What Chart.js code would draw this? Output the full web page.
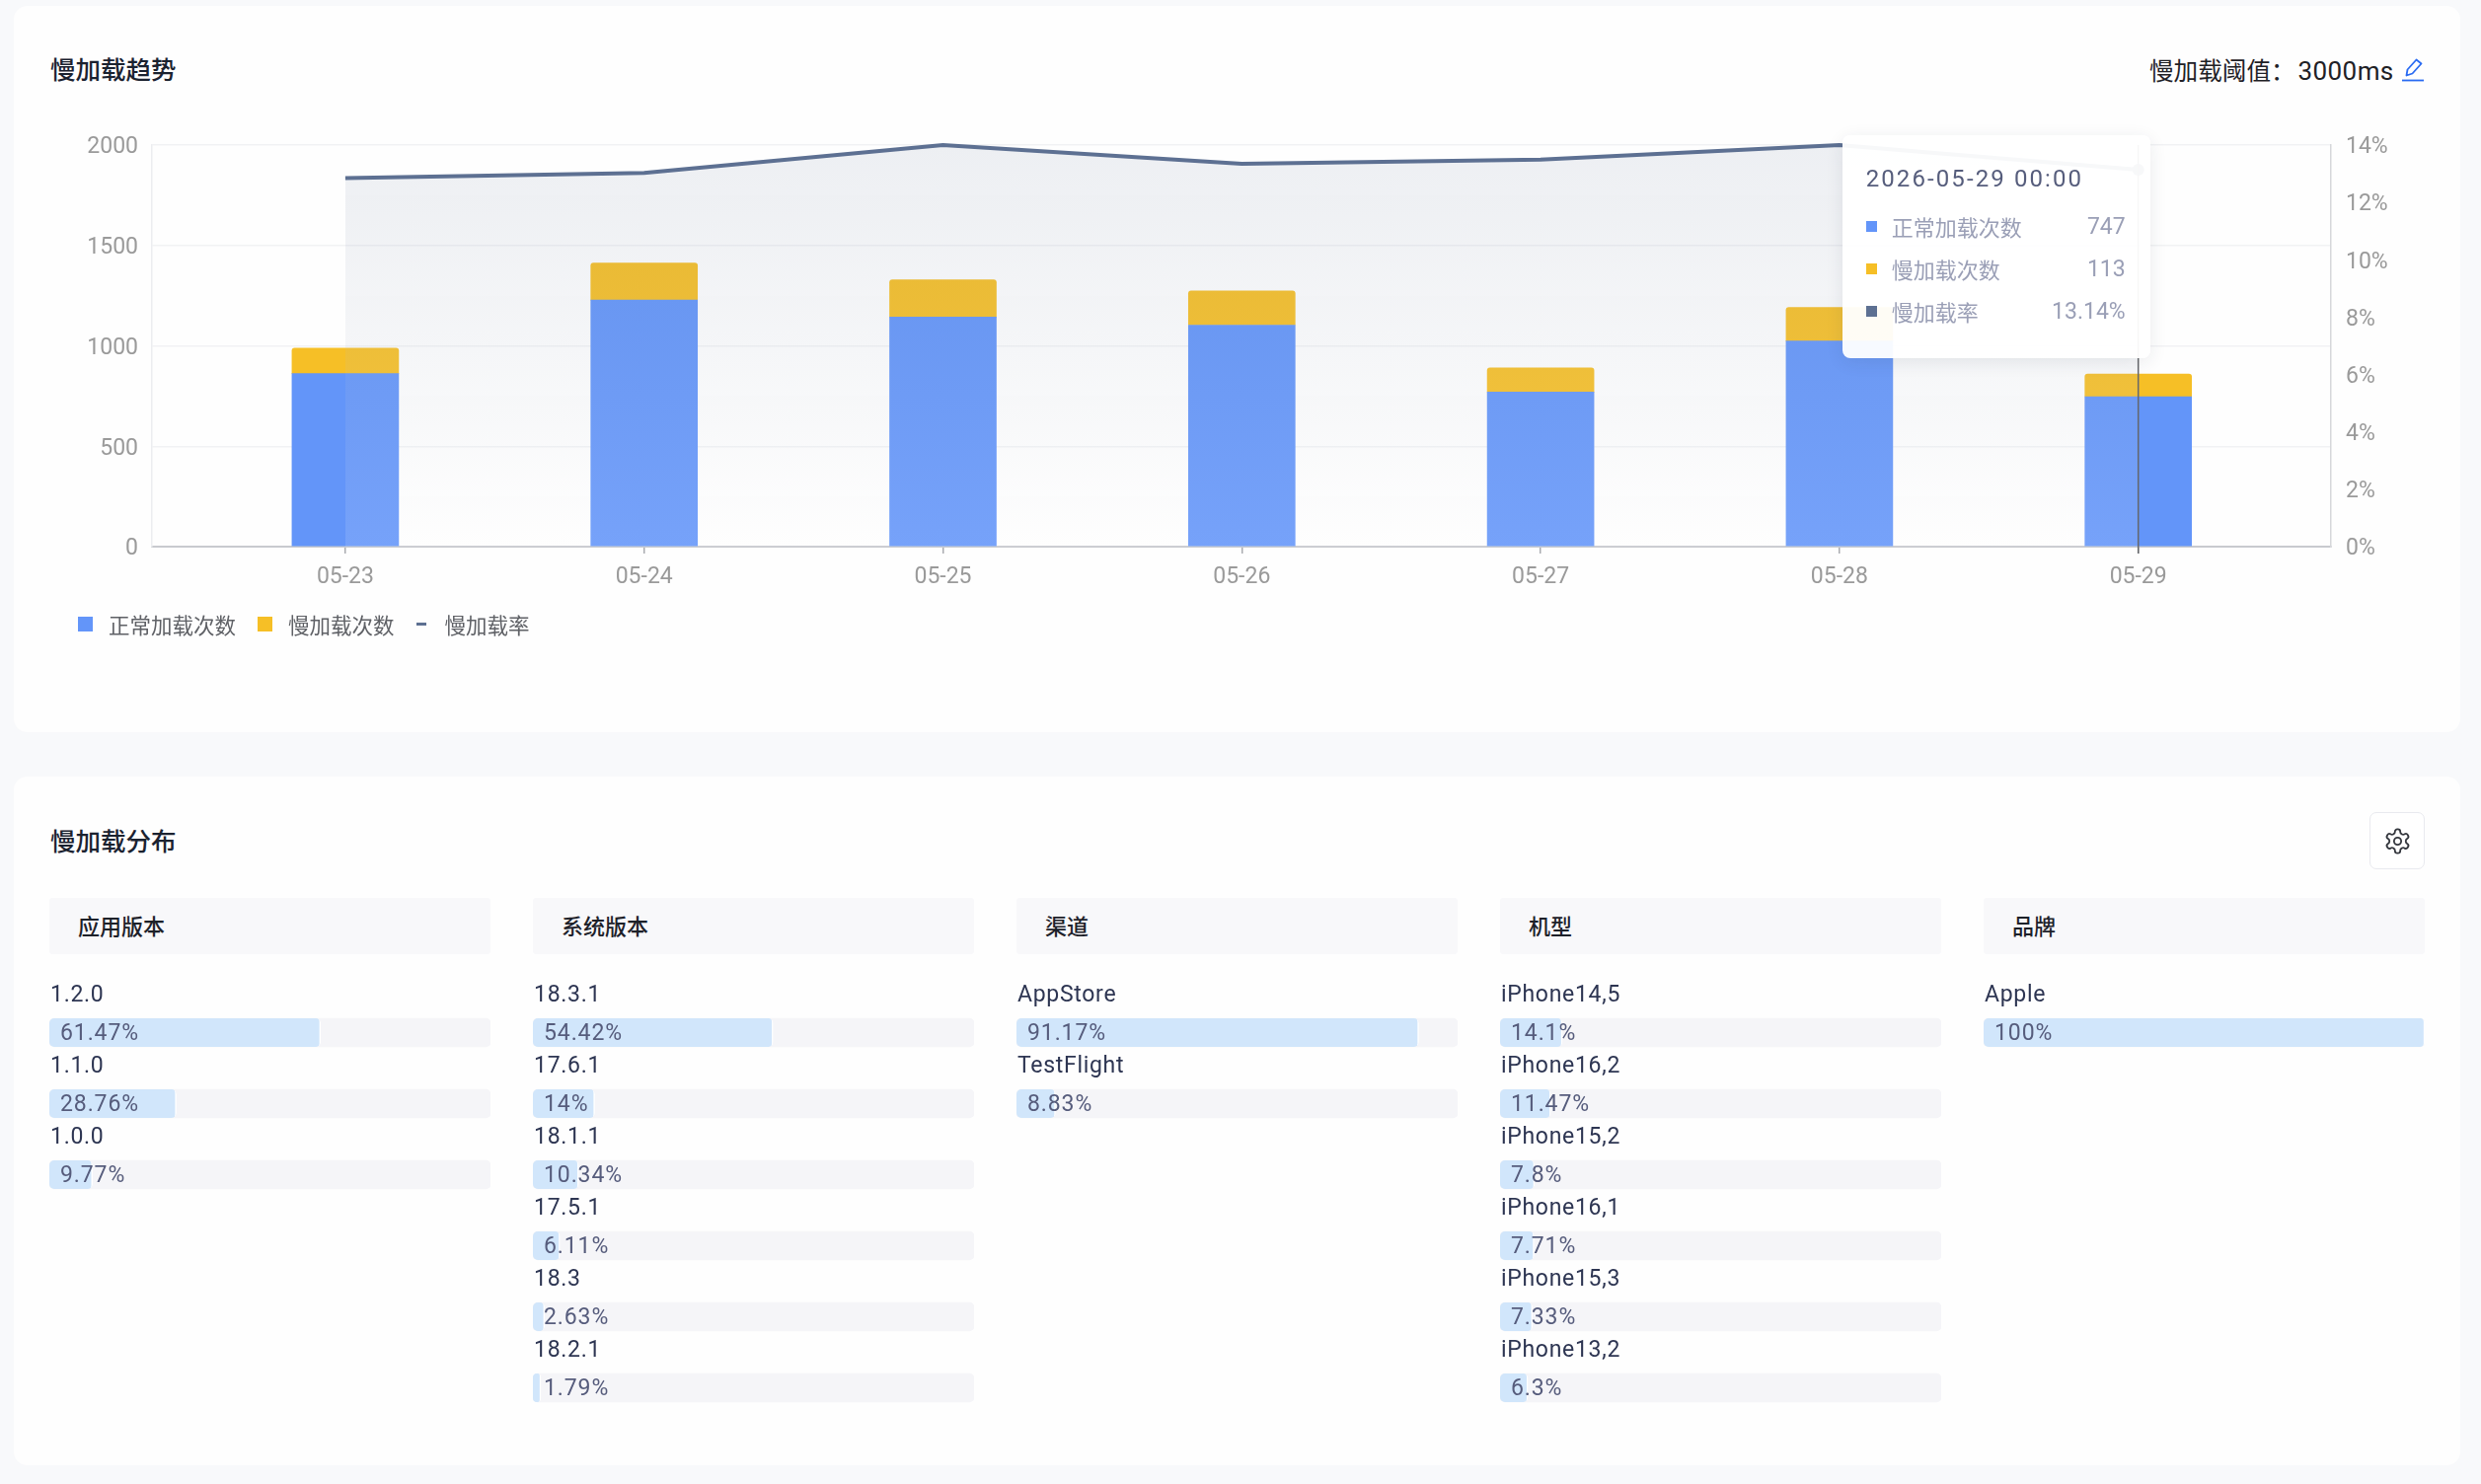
<!DOCTYPE html>
<html lang="zh-CN">
<head>
<meta charset="utf-8">
<title>慢加载</title>
<script src="https://cdn.jsdelivr.net/npm/chart.js@4/dist/chart.umd.js"></script>
<style>
  * { box-sizing: border-box; }
  html, body { margin: 0; width: 2514px; height: 1504px; overflow: hidden; background: #f8f9fb; }
  body { position: relative; font-family: Roboto, "Noto Sans CJK SC", sans-serif; color: #1d2129; }
  canvas { position: absolute; display: block; }
  .panel { position: absolute; left: 14px; width: 2479px; background: #fefefe; border-radius: 14px; }
  .title { position: absolute; left: 51px; font-size: 25.5px; line-height: 36px; font-weight: 500; color: #1b2230; }
  .threshold { position: absolute; left: 2178px; top: 54px; font-size: 24.6px; line-height: 36px; color: #1f2126; white-space: nowrap; }
  .threshold span { font-size: 26px; letter-spacing: 0.4px; margin-left: 3px; }
  .edit { position: absolute; left: 2433px; top: 59px; }
  .gear { position: absolute; left: 2401px; top: 823px; width: 56px; height: 58px; background: #fff;
          border: 1px solid #e9eaef; border-radius: 7px; display: flex; align-items: center; justify-content: center; }
  .colhead { position: absolute; top: 910px; width: 447px; height: 57px; background: #f8f8fa; border-radius: 3px;
             padding-left: 29px; font-size: 22px; line-height: 59px; font-weight: 500; color: #1d2129; }
  #legend { position: absolute; left: 79px; top: 616px; display: flex; align-items: center; height: 32px;
            font-size: 21.5px; color: #5f6166; }
  #legend .item { display: flex; align-items: center; margin-right: 22px; }
  #legend i { display: block; width: 15px; height: 15px; margin-right: 16px; }
  #legend i.dash { width: 10px; height: 3px; margin-right: 19px; }
  #tip { position: absolute; width: 312px; height: 226px; background: rgba(255,255,255,.95); border-radius: 8px;
         box-shadow: 0 4px 18px rgba(30,40,70,.09); padding: 0 25px 0 24px; }
  #tip .when { position: absolute; left: 24px; top: 26px; font-size: 24px; line-height: 36px; letter-spacing: 2.1px; color: #565d7c; white-space: nowrap; }
  #tip .row { position: absolute; left: 24px; right: 25px; height: 36px; display: flex; align-items: center;
              font-size: 22px; color: #9a9fb6; }
  #tip .row i { display: block; width: 11px; height: 11px; margin-right: 15px; }
  #tip .row b { font-weight: 400; font-size: 23px; margin-left: auto; }
</style>
</head>
<body>
<div class="panel" style="top:6px;height:736px"></div>
<div class="panel" style="top:787px;height:698px"></div>

<div class="title" style="top:53px">慢加载趋势</div>
<div class="threshold">慢加载阈值：<span>3000ms</span></div>
<svg class="edit" width="24" height="24" viewBox="0 0 24 24" fill="none" stroke="#2a6bf2" stroke-width="1.8">
  <path d="M5.5 17.5 L6.5 11.5 L15.5 1.5 L20.5 5.5 L11.5 15.5 Z" stroke-linejoin="round"/>
  <path d="M1 22.5 H23"/>
</svg>

<canvas id="trendChart" width="2514" height="760" style="left:0;top:0"></canvas>
<div id="legend"></div>
<div id="tip"></div>

<div class="title" style="top:835px">慢加载分布</div>
<div class="gear">
  <svg width="29" height="29" viewBox="0 0 24 24" fill="none" stroke="#33363d" stroke-width="1.5">
    <path d="M12.22 2h-.44a2 2 0 0 0-2 2v.18a2 2 0 0 1-1 1.73l-.43.25a2 2 0 0 1-2 0l-.15-.08a2 2 0 0 0-2.73.73l-.22.38a2 2 0 0 0 .73 2.73l.15.1a2 2 0 0 1 1 1.72v.51a2 2 0 0 1-1 1.74l-.15.09a2 2 0 0 0-.73 2.73l.22.38a2 2 0 0 0 2.73.73l.15-.08a2 2 0 0 1 2 0l.43.25a2 2 0 0 1 1 1.73V20a2 2 0 0 0 2 2h.44a2 2 0 0 0 2-2v-.18a2 2 0 0 1 1-1.73l.43-.25a2 2 0 0 1 2 0l.15.08a2 2 0 0 0 2.73-.73l.22-.39a2 2 0 0 0-.73-2.73l-.15-.08a2 2 0 0 1-1-1.74v-.5a2 2 0 0 1 1-1.74l.15-.09a2 2 0 0 0 .73-2.73l-.22-.38a2 2 0 0 0-2.73-.73l-.15.08a2 2 0 0 1-2 0l-.43-.25a2 2 0 0 1-1-1.73V4a2 2 0 0 0-2-2z"/>
    <circle cx="12" cy="12" r="3"/>
  </svg>
</div>

<script>
const days = ['05-23', '05-24', '05-25', '05-26', '05-27', '05-28', '05-29'];
const normalCounts = [862, 1228, 1143, 1103, 770, 1024, 747];
const slowCounts = [127, 184, 186, 170, 120, 167, 113];
const slowRates = [12.85, 13.03, 14, 13.35, 13.49, 14, 13.14];
const hoverIndex = 6;

const appVersions = ['1.2.0', '1.1.0', '1.0.0'];
const appVersionShares = [61.47, 28.76, 9.77];
const osVersions = ['18.3.1', '17.6.1', '18.1.1', '17.5.1', '18.3', '18.2.1'];
const osVersionShares = [54.42, 14, 10.34, 6.11, 2.63, 1.79];
const channels = ['AppStore', 'TestFlight'];
const channelShares = [91.17, 8.83];
const models = ['iPhone14,5', 'iPhone16,2', 'iPhone15,2', 'iPhone16,1', 'iPhone15,3', 'iPhone13,2'];
const modelShares = [14.1, 11.47, 7.8, 7.71, 7.33, 6.3];
const brands = ['Apple'];
const brandShares = [100];

const BLUE = '#6395f9';
const YELLOW = '#f6bf26';
const SLATE = '#5d7092';

Chart.defaults.font.family = 'Roboto, "Noto Sans CJK SC", sans-serif';
Chart.defaults.animation = false;

const toPoints = values => values.map((v, i) => ({ x: i, y: v }));

// vertical guide at the hovered day, runs down through the tick mark
const guideLine = {
    id: 'guideLine',
    afterDatasetsDraw(chart) {
        const { ctx, chartArea, scales } = chart;
        const x = scales.x.getPixelForValue(hoverIndex);
        ctx.save();
        ctx.strokeStyle = '#66676b';
        ctx.lineWidth = 1.5;
        ctx.beginPath();
        ctx.moveTo(x, chartArea.top);
        ctx.lineTo(x, chartArea.bottom + 7);
        ctx.stroke();
        ctx.restore();
    }
};

function renderTip({ chart, tooltip }) {
    const tip = document.getElementById('tip');
    if (!tooltip.dataPoints || !tooltip.dataPoints.length) return;
    const day = days[tooltip.dataPoints[0].dataIndex];
    let html = '<div class="when">2026-' + day + ' 00:00</div>';
    tooltip.dataPoints.forEach((p, i) => {
        const suffix = p.dataset.yAxisID === 'y1' ? '%' : '';
        html += '<div class="row" style="top:' + (74 + i * 43) + 'px"><i style="background:' + p.dataset.borderColor + '"></i>'
            + p.dataset.label + '<b>' + p.raw.y + suffix + '</b></div>';
    });
    tip.innerHTML = html;
    tip.style.left = (chart.scales.x.getPixelForValue(hoverIndex) - 300) + 'px';
    tip.style.top = (chart.chartArea.top - 10) + 'px';
}

const areaGradient = ctx => {
    const { chartArea, ctx: c } = ctx.chart;
    if (!chartArea) return 'transparent';
    const g = c.createLinearGradient(0, chartArea.top, 0, chartArea.bottom);
    g.addColorStop(0, 'rgba(93,112,146,0.105)');
    g.addColorStop(1, 'rgba(255,255,255,0.12)');
    return g;
};

// second line of a two-line label sits a little under the tick centre
const lowered = v => ['', String(v)];

const trendChart = new Chart(document.getElementById('trendChart').getContext('2d'), {
    type: 'bar',
    data: {
        datasets: [{
            label: '正常加载次数',
            data: toPoints(normalCounts),
            backgroundColor: BLUE,
            borderColor: BLUE,
            barThickness: 108,
            stack: 'load',
            order: 1
        }, {
            label: '慢加载次数',
            data: toPoints(slowCounts),
            backgroundColor: YELLOW,
            borderColor: YELLOW,
            barThickness: 108,
            borderRadius: { topLeft: 3, topRight: 3 },
            stack: 'load',
            order: 1
        }, {
            type: 'line',
            label: '慢加载率',
            data: toPoints(slowRates),
            yAxisID: 'y1',
            borderColor: SLATE,
            borderWidth: 4,
            tension: 0,
            fill: 'origin',
            backgroundColor: areaGradient,
            pointRadius: ctx => ctx.dataIndex === hoverIndex ? 6 : 0,
            pointBackgroundColor: SLATE,
            pointBorderWidth: 0,
            clip: false,
            order: 0
        }]
    },
    options: {
        responsive: false,
        events: [],
        layout: { padding: { top: 147 } },
        scales: {
            x: {
                type: 'linear',
                stacked: true,
                offset: false,
                min: -0.647,
                max: 6.645,
                afterFit: s => { s.height = 760 - 554; },
                border: { color: '#c8cacf', width: 2 },
                grid: { offset: false, drawOnChartArea: false, drawTicks: true, tickLength: 7, tickColor: '#a9abb0', lineWidth: 1.5 },
                ticks: {
                    stepSize: 1,
                    includeBounds: false,
                    padding: 10,
                    color: '#9a9a9a',
                    font: { size: 23 },
                    maxRotation: 0,
                    callback: v => days[v]
                }
            },
            y: {
                stacked: true,
                min: 0,
                max: 2000,
                afterFit: s => { s.width = 154; },
                border: { color: '#ecedf0', width: 1.5 },
                grid: { color: '#f1f2f4', lineWidth: 1.5, drawTicks: false },
                ticks: {
                    stepSize: 500,
                    padding: 14,
                    color: '#9a9a9a',
                    font: { size: 23, lineHeight: '5px' },
                    callback: lowered
                }
            },
            y1: {
                position: 'right',
                min: 0,
                max: 14,
                afterFit: s => { s.width = 2514 - 2362; },
                border: { color: '#d6d7da', width: 1.5 },
                grid: { drawOnChartArea: false, drawTicks: false },
                ticks: {
                    stepSize: 2,
                    padding: 15,
                    color: '#9a9a9a',
                    font: { size: 23, lineHeight: '5px' },
                    callback: v => lowered(v + '%')
                }
            }
        },
        plugins: {
            legend: { display: false },
            tooltip: { enabled: false, external: renderTip }
        }
    },
    plugins: [guideLine]
});

trendChart.tooltip.setActiveElements(
    trendChart.data.datasets.map((d, i) => ({ datasetIndex: i, index: hoverIndex })),
    { x: 0, y: 0 }
);

document.getElementById('legend').innerHTML = trendChart.data.datasets.map(d =>
    '<div class="item"><i class="' + (d.type === 'line' ? 'dash' : '') + '" style="background:' + d.borderColor + '"></i>' + d.label + '</div>'
).join('');

// name above each bar and the share inside it
const rowText = {
    id: 'rowText',
    afterDraw(chart) {
        const { ctx, scales, chartArea } = chart;
        const shares = chart.data.datasets[0].data;
        ctx.save();
        ctx.textAlign = 'left';
        ctx.textBaseline = 'middle';
        ctx.font = '23px ' + Chart.defaults.font.family;
        chart.data.labels.forEach((name, i) => {
            const y = scales.y.getPixelForValue(i);
            ctx.letterSpacing = '0.7px';
            ctx.fillStyle = '#2d3552';
            ctx.fillText(name, chartArea.left + 1, y - 37);
            ctx.letterSpacing = '0.9px';
            ctx.fillStyle = '#565c7c';
            ctx.fillText(shares[i] + '%', chartArea.left + 11, y + 2);
        });
        ctx.restore();
    }
};

function addColumn(title, left, names, shares) {
    const head = document.createElement('div');
    head.className = 'colhead';
    head.style.left = left + 'px';
    head.textContent = title;
    document.body.appendChild(head);

    const canvas = document.createElement('canvas');
    canvas.width = 447;
    canvas.height = 21 + names.length * 72;
    canvas.style.left = left + 'px';
    canvas.style.top = '990px';
    document.body.appendChild(canvas);

    new Chart(canvas.getContext('2d'), {
        type: 'bar',
        data: {
            labels: names,
            datasets: [{
                data: shares,
                backgroundColor: '#d1e6fb',
                borderColor: '#ffffff',
                borderWidth: { right: 1.5 },
                borderRadius: 5,
                borderSkipped: false
            }, {
                data: names.map(() => 100),
                backgroundColor: '#f5f5f8',
                borderRadius: 5,
                borderSkipped: false
            }]
        },
        options: {
            indexAxis: 'y',
            responsive: false,
            events: [],
            layout: { padding: { top: 20.5, bottom: 0.5 } },
            datasets: { bar: { barThickness: 29, grouped: false } },
            scales: {
                x: { display: false, min: 0, max: 100 },
                y: { display: false }
            },
            plugins: { legend: { display: false }, tooltip: { enabled: false } }
        },
        plugins: [rowText]
    });
}

addColumn('应用版本', 50, appVersions, appVersionShares);
addColumn('系统版本', 540, osVersions, osVersionShares);
addColumn('渠道', 1030, channels, channelShares);
addColumn('机型', 1520, models, modelShares);
addColumn('品牌', 2010, brands, brandShares);
</script>
</body>
</html>
